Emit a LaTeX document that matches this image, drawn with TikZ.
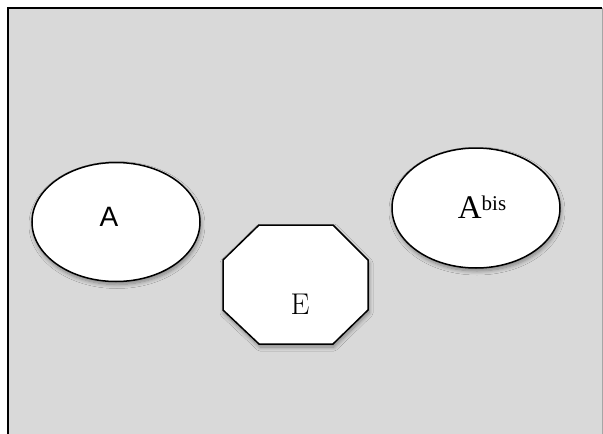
\documentclass[tikz,border=0pt]{standalone}
\usepackage{fontspec}
\usetikzlibrary{shadows.blur}
\newfontfamily\labelsans{Liberation Sans}
\newfontfamily\labelserif{Liberation Serif}
\definecolor{panelgray}{HTML}{D9D9D9}
\tikzset{
  shape outline/.style={draw=black, line width=1.5pt, fill=white,
    blur shadow={shadow xshift=1pt, shadow yshift=-3pt, shadow blur steps=8, shadow blur radius=4pt, shadow opacity=40}},
  tag/.style={inner sep=0pt, anchor=base}
}
\begin{document}
\begin{tikzpicture}[x=1pt, y=-1pt]
  \useasboundingbox (0,0) rectangle (603,434);
  % background panel, running off the bottom edge
  \fill[panelgray] (8,8) rectangle (603,440);
  \draw[line width=2pt] (8,440) -- (8,8) -- (602,8);
  \draw[gray!70, line width=0.8pt] (602,8) -- (602,440);

  % left ellipse
  \draw[shape outline] (116,222) ellipse [x radius=84, y radius=59.5];
  \node[tag] (a) at (109,226) {\labelsans\fontsize{28}{30}\selectfont A};

  % right ellipse
  \draw[shape outline] (476,208) ellipse [x radius=84, y radius=60];
  \node[tag] (abis) at (482,218) {\labelserif\fontsize{33}{35}\selectfont A\raisebox{8pt}{\fontsize{21}{23}\selectfont bis}};

  % octagon
  \draw[shape outline] (259,225) -- (333,225) -- (368,260) -- (368,310)
    -- (333,344) -- (259,344) -- (223,310) -- (223,260) -- cycle;
  \node[tag] (e) at (300,314) {\fontsize{30}{32}\selectfont E};
\end{tikzpicture}
\end{document}
